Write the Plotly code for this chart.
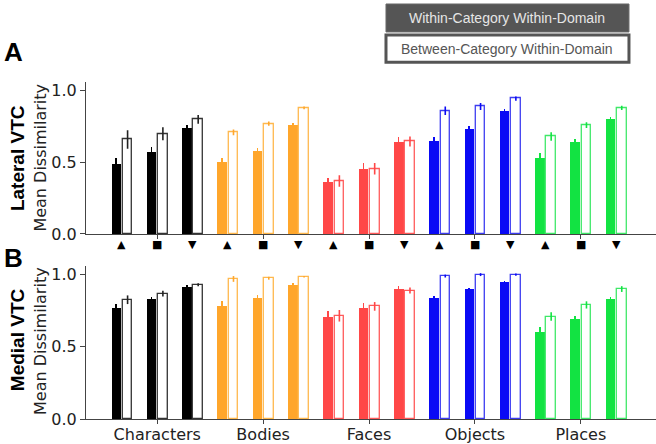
import plotly.graph_objects as go
from plotly.subplots import make_subplots

# data
categories = ["Characters", "Bodies", "Faces", "Objects", "Places"]
colors = ["#000000", "#FFA62B", "#FF4747", "#0A0AF5", "#12E342"]
open_line = ["#333333", "#FFB84D", "#FF5A5A", "#3C3CF0", "#3FE868"]
subgroup_glyphs = ["▲", "■", "▼"]

lateral_within = [[0.49, 0.57, 0.74], [0.50, 0.58, 0.76], [0.36, 0.455, 0.64], [0.65, 0.735, 0.86], [0.53, 0.64, 0.80]]
lateral_within_err = [[0.04, 0.035, 0.02], [0.03, 0.02, 0.015], [0.03, 0.04, 0.035], [0.03, 0.02, 0.01], [0.035, 0.02, 0.015]]
lateral_between = [[0.66, 0.70, 0.80], [0.71, 0.77, 0.88], [0.37, 0.455, 0.645], [0.86, 0.89, 0.945], [0.68, 0.76, 0.88]]
lateral_between_err = [[0.065, 0.045, 0.03], [0.02, 0.015, 0.01], [0.04, 0.04, 0.035], [0.03, 0.025, 0.015], [0.03, 0.02, 0.015]]

medial_within = [[0.77, 0.83, 0.915], [0.785, 0.84, 0.925], [0.71, 0.77, 0.90], [0.84, 0.90, 0.95], [0.60, 0.69, 0.83]]
medial_within_err = [[0.025, 0.015, 0.01], [0.03, 0.02, 0.015], [0.04, 0.03, 0.02], [0.015, 0.01, 0.005], [0.04, 0.025, 0.015]]
medial_between = [[0.826, 0.868, 0.93], [0.97, 0.975, 0.985], [0.715, 0.78, 0.89], [0.99, 1.0, 1.0], [0.71, 0.79, 0.90]]
medial_between_err = [[0.03, 0.02, 0.01], [0.02, 0.01, 0.005], [0.04, 0.03, 0.02], [0.01, 0.01, 0.008], [0.03, 0.025, 0.02]]

BAR_W = 0.27
OFF = 0.16
TICK_FONT = dict(family="DejaVu Sans", size=16, color="#222222")

fig = make_subplots(rows=2, cols=1)


def add_panel(row, within, within_err, between, between_err):
    for c, cat in enumerate(categories):
        centers = [c * 3 + k for k in range(3)]
        fig.add_trace(go.Bar(
            x=[p - OFF for p in centers], y=within[c], width=BAR_W,
            marker=dict(color=colors[c], line=dict(width=0)),
            error_y=dict(type="data", array=within_err[c], color=colors[c], thickness=1.6, width=0),
            showlegend=False), row=row, col=1)
        fig.add_trace(go.Bar(
            x=[p + OFF for p in centers], y=between[c], width=BAR_W,
            marker=dict(color="white", line=dict(color=open_line[c], width=1.3)),
            error_y=dict(type="data", array=between_err[c], color=colors[c] if c else "#222222", thickness=1.6, width=0),
            showlegend=False), row=row, col=1)


add_panel(1, lateral_within, lateral_within_err, lateral_between, lateral_between_err)
add_panel(2, medial_within, medial_within_err, medial_between, medial_between_err)

# subgroup glyphs under panel A (y in paper units so they are not hidden off-range)
for i in range(len(categories) * 3):
    fig.add_annotation(x=i, y=0.449, xref="x", yref="paper", text=subgroup_glyphs[i % 3], showarrow=False,
                       yanchor="middle", font=dict(family="DejaVu Sans", size=11, color="black"))

x_range = [-1.02, 15.13]
tick_pos = [c * 3 + 1 for c in range(len(categories))]
axis_common = dict(showgrid=False, zeroline=False, showline=True, linecolor="#444444", linewidth=1,
                   ticks="outside", tickcolor="#444444", tickfont=TICK_FONT, automargin=False)

fig.update_xaxes(range=x_range, tickvals=tick_pos, ticklen=4, domain=[0.131, 1.0], **axis_common)
fig.update_xaxes(showticklabels=False, row=1, col=1)
fig.update_xaxes(ticktext=categories, ticklabelstandoff=-3, row=2, col=1)
fig.update_yaxes(range=[0, 1.06], tickvals=[0, 0.5, 1.0], tickformat=".1f", ticklen=5, **axis_common)
fig.update_yaxes(domain=[0.473, 0.815], row=1, col=1)
fig.update_yaxes(domain=[0.0563, 0.401], row=2, col=1)

label_font = dict(family="Liberation Sans", size=19, color="black")
annos = [
    dict(text="<b>A</b>", x=0.003, y=0.884, xanchor="left",
         font=dict(family="Liberation Sans", size=26, color="black")),
    dict(text="<b>B</b>", x=0.003, y=0.419, xanchor="left",
         font=dict(family="Liberation Sans", size=26, color="black")),
    dict(text="<b>Lateral VTC</b>", x=0.026, y=0.644, textangle=-90, font=label_font),
    dict(text="<b>Medial VTC</b>", x=0.026, y=0.234, textangle=-90, font=label_font),
    dict(text="Mean Dissimilarity", x=0.0625, y=0.645, textangle=-90, font=TICK_FONT),
    dict(text="Mean Dissimilarity", x=0.0625, y=0.232, textangle=-90, font=TICK_FONT),
    dict(text="Within-Category Within-Domain", x=0.7736, y=0.9595,
         font=dict(family="Liberation Sans", size=14, color="#E6E6E6")),
    dict(text="Between-Category Within-Domain", x=0.7736, y=0.8905,
         font=dict(family="Liberation Sans", size=14, color="#555555")),
]
for a in annos:
    a.setdefault("xanchor", "center")
    fig.add_annotation(xref="paper", yref="paper", showarrow=False, yanchor="middle", **a)

fig.add_shape(type="rect", xref="paper", yref="paper", x0=0.5884, x1=0.9588, y0=0.928, y1=0.991,
              fillcolor="#555555", line=dict(color="#6a6a6a", width=1))
fig.add_shape(type="rect", xref="paper", yref="paper", x0=0.5884, x1=0.9588, y0=0.860, y1=0.921,
              fillcolor="white", line=dict(color="#555555", width=3))

fig.update_layout(width=656, height=444, margin=dict(l=0, r=0, t=0, b=0, autoexpand=False),
                  plot_bgcolor="white", paper_bgcolor="white", barmode="overlay", bargap=0)

# drop the default page margin so the figure sits at the window's corner
fig.write_html("out.html", config={"displayModeBar": False},
               post_script="document.body.style.margin='0';")
